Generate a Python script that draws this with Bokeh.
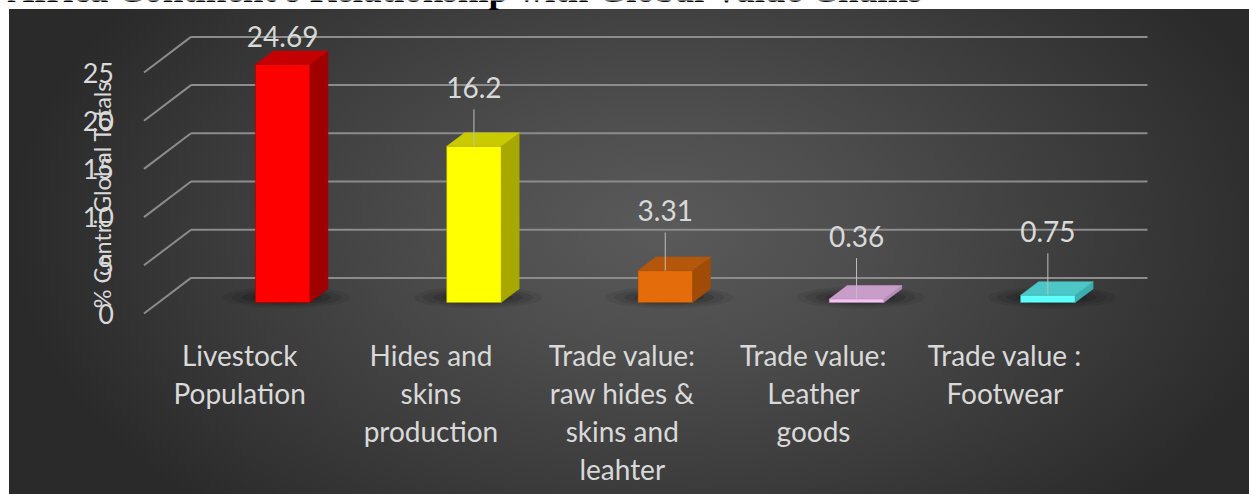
import math
import numpy as np
from bokeh.plotting import figure
from bokeh.models import Range1d, FixedTicker, Label, ColumnDataSource
from bokeh.embed import file_html
from bokeh.resources import INLINE
from bokeh.core.properties import value

# ---------------- data ----------------
categories = ["Livestock\nPopulation",
              "Hides and\nskins\nproduction",
              "Trade value:\nraw hides &\nskins and\nleahter",
              "Trade value:\nLeather\ngoods",
              "Trade value :\nFootwear"]
values = [24.69, 16.2, 3.31, 0.36, 0.75]
value_labels = ["24.69", "16.2", "3.31", "0.36", "0.75"]
y_ticks = [0, 5, 10, 15, 20, 25]
title_text = "Africa Continent's Relationship with Global Value Chains"
y_title = "% Contri Global Totals"

# ---------------- styles ----------------
front_colors = ["#FF0000", "#FFFF00", "#E46C0A", "#F7C3F7", "#5EFFFF"]
top_colors = ["#C40000", "#CACA00", "#B5570A", "#C89EC8", "#4CC6C6"]
side_colors = ["#A00000", "#A8A800", "#A04B06", "#B48CB4", "#3CAEAE"]
label_gap_px = [28, 59, 60, 63, 64]     # label centre above bar top (px)
TEXT = "#D9D9D9"
GRID = "#8C8C8C"
FONT = "Lato"

W, H = 1249, 494
X0_PX, CAT_PX = 143.5, 191.3     # front-left of plot floor, width per category
Y0_PX, UNIT_PX = 313.0, 9.64     # front zero line, px per value unit
DX = 47.0 / CAT_PX               # wall depth offset (x units)
DY = 35.6 / UNIT_PX              # wall depth offset (value units)
BAR_SHIFT = 43.0 / CAT_PX
BAR_W = 54.5 / CAT_PX
BAR_BASE = 11.0 / UNIT_PX
BDX = 18.0 / CAT_PX
BDY = 13.6 / UNIT_PX


def X(px):
    return (px - X0_PX) / CAT_PX


def Y(py):
    return (Y0_PX - py) / UNIT_PX


p = figure(width=W, height=H, output_backend="svg", toolbar_location=None,
           x_range=Range1d(X(0), X(W)), y_range=Range1d(Y(H), Y(0)),
           min_border=0)
p.background_fill_alpha = 0
p.border_fill_alpha = 0
p.outline_line_color = None
p.grid.visible = False
p.styles = {"background": "radial-gradient(ellipse 650px 390px at 651px 221px, "
            "#5a5a5a 0%, #4e4e4e 30%, #3c3c3c 66%, #2a2a2a 100%) "
            "9px 9px / 1240px 485px no-repeat, #ffffff"}

n = len(values)
idx = np.arange(n)

# ---- gridlines (back wall + left wall) ----
gt = np.array(y_ticks, dtype=float)
p.segment(x0=np.full(len(gt), DX), y0=gt + DY, x1=np.full(len(gt), n + DX), y1=gt + DY,
          line_color=GRID, line_width=2)
p.segment(x0=np.zeros(len(gt)), y0=gt, x1=np.full(len(gt), DX), y1=gt + DY,
          line_color=GRID, line_width=2)

# ---- bars ----
vals = np.array(values)
cx = idx + 0.5 + BAR_SHIFT
left = cx - BAR_W / 2
right = cx + BAR_W / 2
bottom = np.full(n, BAR_BASE)
top = bottom + vals

# soft floor shadows
for w, h, a in [(128, 22, 0.07), (110, 18, 0.09), (90, 14, 0.12), (70, 10, 0.16)]:
    p.ellipse(x=cx + 4.0 / CAT_PX, y=np.full(n, Y(297)), width=w / CAT_PX, height=h / UNIT_PX,
              fill_color="black", fill_alpha=a, line_color=None)

src = ColumnDataSource(dict(
    left=left, right=right, bottom=bottom, top=top,
    side_xs=[[r, r + BDX, r + BDX, r] for r in right],
    side_ys=[[b, b + BDY, t + BDY, t] for b, t in zip(bottom, top)],
    top_xs=[[l, r, r + BDX, l + BDX] for l, r in zip(left, right)],
    top_ys=[[t, t, t + BDY, t + BDY] for t in top],
    front=front_colors, topc=top_colors, side=side_colors,
))
p.patches("side_xs", "side_ys", source=src, fill_color="side", line_color="side", line_width=0.5)
p.patches("top_xs", "top_ys", source=src, fill_color="topc", line_color="topc", line_width=0.5)
p.quad(left="left", right="right", bottom="bottom", top="top", source=src,
       fill_color="front", line_color="side", line_width=0.6)

# ---- data labels with leader lines ----
gap = np.array(label_gap_px, dtype=float)
lab_y = top + gap / UNIT_PX
lead = gap > 40
p.segment(x0=cx[lead], y0=top[lead], x1=cx[lead], y1=(top + (gap - 22) / UNIT_PX)[lead],
          line_color="#BFBFBF", line_width=1)
p.text(x=cx, y=lab_y, text=value_labels, text_align="center", text_baseline="middle",
       text_color=TEXT, text_font=value(FONT), text_font_size="28px")

# ---- axes ----
ya = p.yaxis[0]
ya.fixed_location = 0
ya.ticker = FixedTicker(ticks=y_ticks)
ya.axis_line_color = None
ya.major_tick_line_color = None
ya.minor_tick_line_color = None
ya.major_tick_out = 0
ya.major_tick_in = 0
ya.major_label_standoff = 30
ya.major_label_text_color = TEXT
ya.major_label_text_font = FONT
ya.major_label_text_font_size = "27px"

xa = p.xaxis[0]
xa.fixed_location = 0
xa.ticker = FixedTicker(ticks=list(idx + 0.5))
xa.major_label_overrides = {float(i + 0.5): c for i, c in enumerate(categories)}
xa.axis_line_color = None
xa.major_tick_line_color = None
xa.minor_tick_line_color = None
xa.major_tick_out = 0
xa.major_tick_in = 0
xa.major_label_standoff = 24
xa.major_label_text_color = TEXT
xa.major_label_text_font = FONT
xa.major_label_text_font_size = "28px"
xa.major_label_text_line_height = 1.125

# ---- axis title and chart title ----
p.add_layout(Label(x=X(101), y=Y(194), text=y_title, angle=math.pi / 2,
                   text_align="center", text_baseline="middle", text_color=TEXT,
                   text_font=FONT, text_font_size="23.5px"))
p.add_layout(Label(x=X(7), y=Y(-11), text=title_text, text_align="left",
                   text_baseline="alphabetic", text_color="black",
                   text_font="Liberation Serif", text_font_style="bold",
                   text_font_size="37px"))

open("out.html", "w").write(file_html(p, INLINE))
